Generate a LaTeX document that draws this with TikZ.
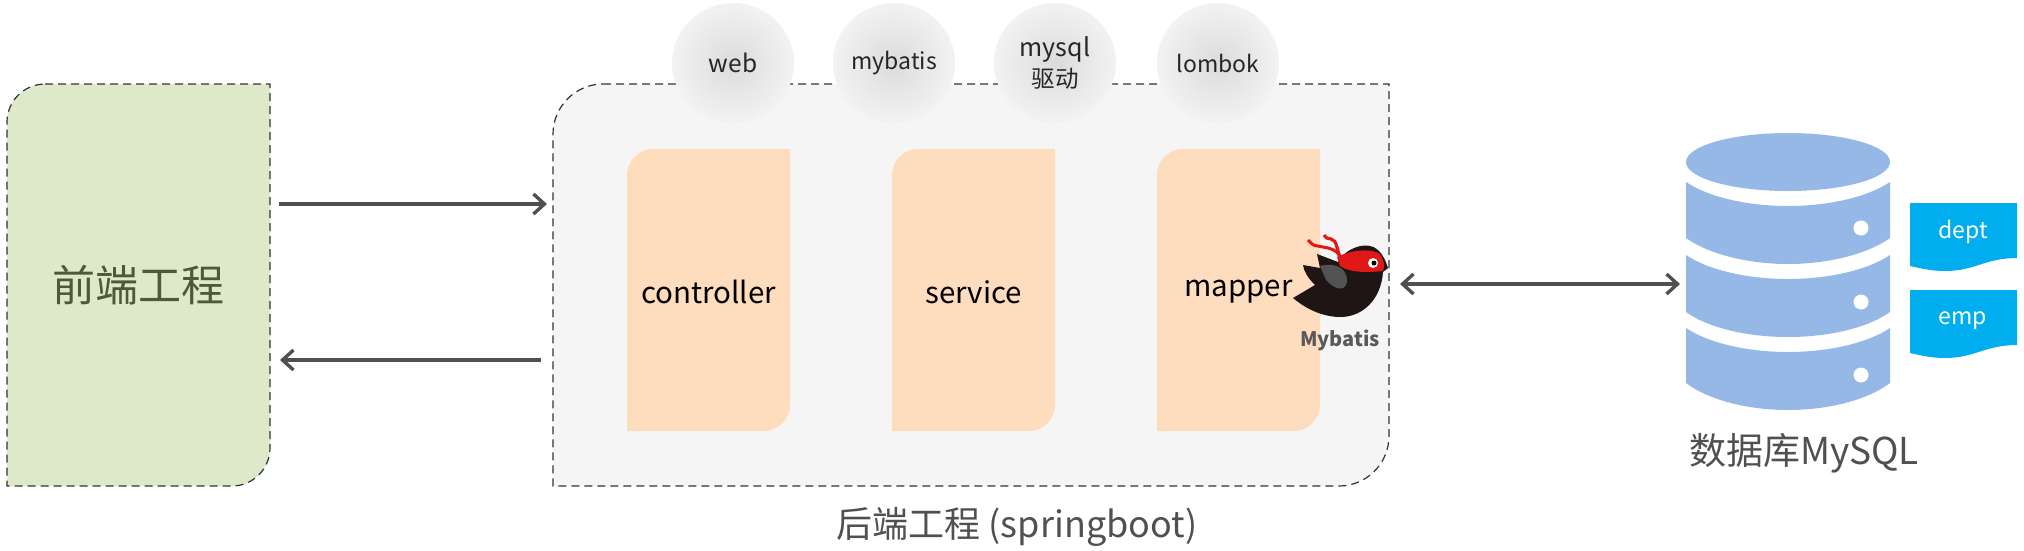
\documentclass[tikz,border=0pt]{standalone}
\usepackage{fontspec}
\setmainfont{Noto Sans CJK SC}
\usetikzlibrary{arrows.meta,shapes.geometric,shadings}
\definecolor{feFill}{HTML}{DEE9C9}
\definecolor{beFill}{HTML}{F5F5F5}
\definecolor{layerFill}{HTML}{FEDCBE}
\definecolor{dbFill}{HTML}{95B8E6}
\definecolor{docFill}{HTML}{00ADEF}
\definecolor{arrowGrey}{HTML}{505050}
\definecolor{dashGrey}{HTML}{333333}
\definecolor{feText}{HTML}{4A5A3A}
\definecolor{capText}{HTML}{505050}
\definecolor{birdBlack}{HTML}{1E1514}
\definecolor{birdRed}{HTML}{E01818}
\newcommand{\fsz}[1]{\fontsize{#1}{#1}\selectfont}
\newcommand{\cutshape}[6]{%
  \pgfmathsetmacro\xa{#2+#6}\pgfmathsetmacro\ya{#3+#6}%
  \pgfmathsetmacro\xb{#4-#6}\pgfmathsetmacro\yb{#5-#6}%
  \pgfmathsetmacro\xaa{#2+0.45*#6}\pgfmathsetmacro\yaa{#3+0.45*#6}%
  \pgfmathsetmacro\xbb{#4-0.45*#6}\pgfmathsetmacro\ybb{#5-0.45*#6}%
  \path[#1] (\xa,#3) -- (#4,#3) -- (#4,\yb) .. controls (#4,\ybb) and (\xbb,#5) .. (\xb,#5)
    -- (#2,#5) -- (#2,\ya) .. controls (#2,\yaa) and (\xaa,#3) .. (\xa,#3) -- cycle;}
\tikzset{
  x=1pt,y=-1pt,
  panel/.style={fill=#1,draw=dashGrey,line width=1.2pt,dash pattern=on 8pt off 5pt},
  layerbox/.style={fill=layerFill},
  anchorbox/.style={inner sep=0pt,outer sep=0pt,text=black},
  layerlabel/.style={anchorbox,font=\fsz{29.5}},
  depball/.style={ellipse,inner sep=0pt,outer sep=0pt,minimum width=122pt,minimum height=120pt,
    inner color=black!14,outer color=black!5,text=black!85,align=center,font=\fsz{23}},
  flow/.style={draw=arrowGrey,line width=3.4pt},
  tip/.tip={Straight Barb[length=11pt,width=20pt,line width=3.4pt]},
  dbpart/.style={fill=dbFill},
  docpart/.style={fill=docFill},
  doclabel/.style={inner sep=0pt,text=white,font=\fsz{23}},
  caption/.style={inner sep=0pt,text=capText},
}
\begin{document}
\begin{tikzpicture}
\useasboundingbox (0,0) rectangle (2024,550);
% frontend
\cutshape{panel=feFill}{7}{84}{270}{486}{38}
\node[anchorbox,minimum width=263pt,minimum height=402pt,text=feText,font=\fsz{43}] (fe) at (138.5,285) {前端工程};
% backend
\cutshape{panel=beFill}{553}{84}{1389}{486}{50}
\node[anchorbox,minimum width=836pt,minimum height=402pt] (be) at (971,285) {};
% layers
\cutshape{layerbox}{627}{149}{790}{431}{26}
\cutshape{layerbox}{892}{149}{1055}{431}{26}
\cutshape{layerbox}{1157}{149}{1320}{431}{26}
\node[layerlabel,minimum width=163pt,minimum height=282pt] (ctl) at (708.5,292) {controller};
\node[layerlabel,minimum width=163pt,minimum height=282pt] (svc) at (973.5,292) {service};
\node[layerlabel,minimum width=163pt,minimum height=282pt] (map) at (1238.5,292) {mapper};
% dependency balls
\node[depball,font=\fsz{24.5}] (web) at (733,63) {web};
\node[depball] (mybatis) at (894,63) {mybatis};
\node[depball,font=\fsz{25}] (mysql) at (1055,63) {mysql\\[4pt]{\fsz{23.5}驱动}};
\node[depball] (lombok) at (1218,63) {lombok};
% caption
\node[caption,font=\fsz{36}] (becap) at (1017,527) {后端工程 (springboot)};
% bird logo
\fill[birdBlack] (1338,262) .. controls (1345,248) and (1368,240) .. (1378,250)
  .. controls (1384,256) and (1386,262) .. (1388,268) -- (1383,272)
  .. controls (1381,300) and (1362,318) .. (1338,317)
  .. controls (1320,316) and (1305,308) .. (1293,298) -- (1315,285)
  .. controls (1308,278) and (1304,272) .. (1303,265) -- (1320,268) -- (1317,254) -- cycle;
\fill[black!68] (1320,266) .. controls (1335,262) and (1348,268) .. (1347,282)
  .. controls (1345,292) and (1335,290) .. (1326,280) -- cycle;
\fill[birdRed] (1337,257) .. controls (1350,250) and (1372,248) .. (1380,254)
  .. controls (1384,260) and (1385,266) .. (1383,271)
  .. controls (1372,272) and (1352,274) .. (1340,266) -- cycle;
\draw[birdRed,line width=3.2pt] (1341,261) .. controls (1337,250) and (1337,240) .. (1331,239)
  .. controls (1328,239) and (1326,238) .. (1324,235);
\draw[birdRed,line width=3pt] (1341,258) .. controls (1336,247) and (1325,248) .. (1318,246)
  .. controls (1313,246) and (1311,243) .. (1308,240);
\fill[white] (1373,263) circle[radius=5];
\fill[black] (1374,263) circle[radius=2.5];
\node[inner sep=0pt,text=black!65,font=\fsz{20}\bfseries] (mblabel) at (1340,340) {Mybatis};
% database
\path[dbpart] (1686,162) arc[start angle=180,end angle=-180,x radius=102,y radius=29];
\path[dbpart] (1686,182) .. controls (1710,198) and (1750,206) .. (1788,206)
  .. controls (1826,206) and (1866,198) .. (1890,182) -- (1890,238)
  .. controls (1866,255) and (1826,264) .. (1788,264)
  .. controls (1750,264) and (1710,255) .. (1686,238) -- cycle;
\path[dbpart] (1686,255) .. controls (1710,271) and (1750,279) .. (1788,279)
  .. controls (1826,279) and (1866,271) .. (1890,255) -- (1890,312)
  .. controls (1866,329) and (1826,337) .. (1788,337)
  .. controls (1750,337) and (1710,329) .. (1686,312) -- cycle;
\path[dbpart] (1686,328) .. controls (1710,344) and (1750,352) .. (1788,352)
  .. controls (1826,352) and (1866,344) .. (1890,328) -- (1890,383)
  .. controls (1866,401) and (1826,410) .. (1788,410)
  .. controls (1750,410) and (1710,401) .. (1686,383) -- cycle;
\fill[white] (1861,228) circle[radius=7.5] (1861,302) circle[radius=7.5] (1861,375) circle[radius=7.5];
\node[inner sep=0pt,outer sep=0pt,minimum width=204pt,minimum height=277pt] (db) at (1788,271.5) {};
\node[caption,font=\fsz{37}] (dbcap) at (1804,453) {数据库MySQL};
% tables
\path[docpart] (1910,203) -- (2017,203) -- (2017,258) .. controls (1985,258) and (1975,271) .. (1945,271)
  .. controls (1930,271) and (1920,268) .. (1910,266) -- cycle;
\path[docpart] (1910,290) -- (2017,290) -- (2017,345) .. controls (1985,345) and (1975,358) .. (1945,358)
  .. controls (1930,358) and (1920,355) .. (1910,353) -- cycle;
\node[doclabel] (dept) at (1963,232) {dept};
\node[doclabel] (emp) at (1963,321) {emp};
% connectors
\draw[flow,-tip] ([xshift=9pt,yshift=81pt]fe.east) -- ([xshift=-6pt,yshift=81pt]be.west);
\draw[flow,-tip] ([xshift=-12pt,yshift=-75pt]be.west) -- ([xshift=10pt,yshift=-75pt]fe.east);
\draw[flow,tip-tip] ([xshift=11pt,yshift=1pt]be.east) -- ([xshift=-6pt,yshift=-12.5pt]db.west);
\end{tikzpicture}
\end{document}
